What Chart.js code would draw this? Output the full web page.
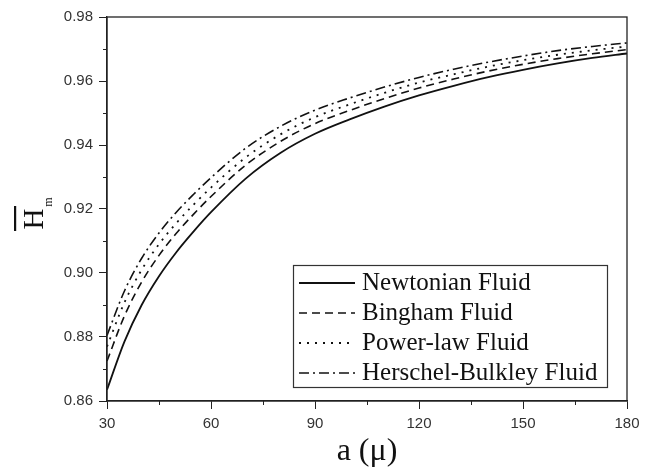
<!DOCTYPE html>
<html>
<head>
<meta charset="utf-8">
<script src="https://cdn.jsdelivr.net/npm/chart.js@4.4.1/dist/chart.umd.min.js"></script>
<style>
  body { margin: 0; background: #ffffff; }
  canvas { display: block; }
</style>
</head>
<body>
<canvas id="chart" width="652" height="474"></canvas>
<script>
// values
var aValues = [30, 35, 40, 45, 50, 55, 60, 70, 80, 90, 100, 110, 120, 130, 140, 150, 160, 170, 180];
var newtonian = [0.8635, 0.8785, 0.8900, 0.8990, 0.9065, 0.9130, 0.9190, 0.9295, 0.9375, 0.9435, 0.9480, 0.9520, 0.9555, 0.9585, 0.9612, 0.9635, 0.9655, 0.9672, 0.9686];
var bingham = [0.8725, 0.8865, 0.8972, 0.9055, 0.9124, 0.9184, 0.9239, 0.9337, 0.9411, 0.9467, 0.9508, 0.9545, 0.9578, 0.9606, 0.9631, 0.9652, 0.9670, 0.9685, 0.9698];
var powerLaw = [0.8770, 0.8907, 0.9010, 0.9090, 0.9156, 0.9214, 0.9267, 0.9361, 0.9433, 0.9487, 0.9527, 0.9563, 0.9595, 0.9621, 0.9645, 0.9665, 0.9682, 0.9696, 0.9708];
var herschel = [0.8805, 0.8943, 0.9046, 0.9125, 0.9190, 0.9246, 0.9298, 0.9390, 0.9458, 0.9509, 0.9547, 0.9581, 0.9611, 0.9637, 0.9659, 0.9678, 0.9695, 0.9708, 0.9719];
var seriesNames = ['Newtonian Fluid', 'Bingham Fluid', 'Power-law Fluid', 'Herschel-Bulkley Fluid'];

function toPoints(values) {
    return values.map((v, i) => ({ x: aValues[i], y: v }));
}

// box, minor ticks, legend and y title
var extras = {
    id: 'extras',
    afterDraw(chart) {
        var ctx = chart.ctx;
        var area = chart.chartArea;
        var xs = chart.scales.x, ys = chart.scales.y;
        ctx.save();
        ctx.strokeStyle = '#222';
        ctx.lineWidth = 1.3;
        ctx.strokeRect(area.left, area.top, area.right - area.left, area.bottom - area.top);

        // minor ticks
        ctx.lineWidth = 1;
        ctx.beginPath();
        for (var v = 45; v < 180; v += 30) {
            var px = Math.round(xs.getPixelForValue(v)) + 0.5;
            ctx.moveTo(px, area.bottom);
            ctx.lineTo(px, area.bottom + 4);
        }
        for (var k = 0; k < 6; k++) {
            var py = Math.round(ys.getPixelForValue(0.87 + k * 0.02)) + 0.5;
            ctx.moveTo(area.left, py);
            ctx.lineTo(area.left - 4, py);
        }
        ctx.stroke();

        // legend
        var bx = 293, by = 265, bw = 314, bh = 122;
        ctx.fillStyle = '#ffffff';
        ctx.fillRect(bx, by, bw, bh);
        ctx.strokeStyle = '#333';
        ctx.lineWidth = 1.2;
        ctx.strokeRect(bx + 0.5, by + 0.5, bw, bh);
        ctx.font = '25px "Liberation Serif", serif';
        ctx.textBaseline = 'middle';
        ctx.textAlign = 'left';
        chart.data.datasets.forEach((ds, i) => {
            var yy = by + 18 + i * 30;
            ctx.beginPath();
            ctx.setLineDash(ds.borderDash || []);
            ctx.lineWidth = ds.borderWidth;
            ctx.strokeStyle = '#111';
            ctx.moveTo(299, yy);
            ctx.lineTo(355, yy);
            ctx.stroke();
            ctx.setLineDash([]);
            ctx.fillStyle = '#111';
            ctx.fillText(ds.label, 362, yy);
        });

        // y axis title: H with overbar and subscript m
        ctx.translate(34, 219);
        ctx.rotate(-Math.PI / 2);
        ctx.fillStyle = '#111';
        ctx.font = '29px "Liberation Serif", serif';
        ctx.textAlign = 'center';
        ctx.textBaseline = 'middle';
        ctx.fillText('H', 0, 1);
        ctx.font = '12px "Liberation Serif", serif';
        ctx.fillText('m', 17, 15);
        ctx.fillRect(-12, -20, 25, 2.2);
        ctx.restore();
    }
};

var ctx = document.getElementById('chart').getContext('2d');
var myChart = new Chart(ctx, {
    type: 'line',
    data: {
        datasets: [
            { label: seriesNames[0], data: toPoints(newtonian), borderColor: '#111', borderWidth: 1.8, borderDash: [] },
            { label: seriesNames[1], data: toPoints(bingham), borderColor: '#111', borderWidth: 1.6, borderDash: [8, 5] },
            { label: seriesNames[2], data: toPoints(powerLaw), borderColor: '#111', borderWidth: 1.8, borderDash: [2, 6] },
            { label: seriesNames[3], data: toPoints(herschel), borderColor: '#111', borderWidth: 1.6, borderDash: [10, 4, 2, 4] }
        ]
    },
    options: {
        responsive: false,
        animation: false,
        layout: { padding: { left: 0, right: 25, top: 17, bottom: 0 } },
        elements: {
            point: { radius: 0 },
            line: { cubicInterpolationMode: 'monotone', fill: false }
        },
        scales: {
            x: {
                type: 'linear',
                min: 30,
                max: 180,
                afterFit: (scale) => { scale.height = 73; },
                ticks: {
                    stepSize: 30,
                    padding: 6,
                    color: '#333',
                    font: { family: '"Liberation Sans", Arial, sans-serif', size: 15 },
                    maxRotation: 0
                },
                grid: { drawOnChartArea: false, tickLength: 8, tickColor: '#222' },
                border: { color: '#222', width: 1.3 },
                title: {
                    display: true,
                    text: 'a (μ)',
                    color: '#111',
                    font: { family: '"Liberation Serif", serif', size: 32, lineHeight: 1 },
                    padding: { top: 0, bottom: 6 }
                }
            },
            y: {
                type: 'linear',
                min: 0.86,
                max: 0.98,
                afterFit: (scale) => { scale.width = 107; },
                ticks: {
                    stepSize: 0.02,
                    padding: 6,
                    color: '#333',
                    font: { family: '"Liberation Sans", Arial, sans-serif', size: 15 },
                    callback: (v) => v.toFixed(2)
                },
                grid: { drawOnChartArea: false, tickLength: 8, tickColor: '#222' },
                border: { color: '#222', width: 1.3 }
            }
        },
        plugins: {
            legend: { display: false },
            tooltip: { enabled: false }
        }
    },
    plugins: [extras]
});
</script>
</body>
</html>
